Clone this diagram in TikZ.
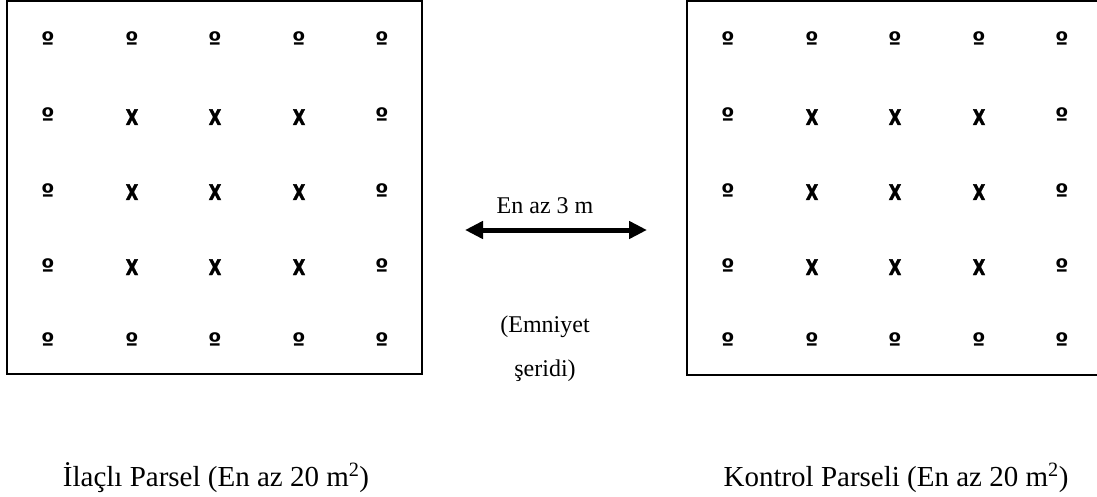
\documentclass[tikz,border=0pt]{standalone}
\usepackage{fontspec}
\setmainfont{Liberation Serif}
\newfontfamily\symfont{DejaVu Sans Bold}
\newfontfamily\crossfont{DejaVu Sans Bold}[FakeBold=2]
\usetikzlibrary{arrows.meta}
\tikzset{
  parcel/.style={line width=2.5pt, line cap=rect},
  ordmark/.style={anchor=base, inner sep=0pt, font=\symfont\fontsize{24}{24}\selectfont},
  crossmark/.style={anchor=base, inner sep=0pt, font=\crossfont\fontsize{21.5}{22}\selectfont},
  midtext/.style={anchor=base, inner sep=0pt, font=\fontsize{24}{28}\selectfont},
  captext/.style={anchor=base, inner sep=0pt, font=\fontsize{29}{34}\selectfont},
  gap/.style={line width=5pt, {Triangle[length=18pt,width=17pt]}-{Triangle[length=18pt,width=17pt]}},
}
\newcommand{\crossglyph}{\scalebox{0.76}[1]{X}}
\begin{document}
\begin{tikzpicture}[x=1pt,y=-1pt]
\useasboundingbox (0,0) rectangle (1097,497);
% left parcel
\draw[parcel] (7,1) rectangle (422,374);
% right parcel (open on the right)
\draw[parcel] (1097,1) -- (687,1) -- (687,375) -- (1097,375);
% symbol grids
\foreach \side/\off in {L/0, R/680}{
  \foreach \c/\x in {1/48,2/132,3/215,4/299,5/382}{
    \foreach \r/\y in {1/48,2/124,3/199,4/274,5/348}{
      \pgfmathtruncatemacro{\inner}{(\c>1)&&(\c<5)&&(\r>1)&&(\r<5)}
      \ifnum\inner=1
        \node[crossmark] (\side-\r-\c) at (\x+\off,\y+1) {\crossglyph};
      \else
        \node[ordmark] (\side-\r-\c) at (\x+\off,\y+2) {º};
      \fi
    }
  }
}
% safety strip
\node[midtext] (dist) at (545,213) {En az 3 m};
\coordinate (gapL) at (465,230);
\coordinate (gapR) at (647,230);
\draw[gap] (gapL) -- (gapR);
\node[midtext] (strip1) at (545,332) {(Emniyet};
\node[midtext] (strip2) at (545,376) {şeridi)};
% captions
\node[captext] (capL) at (216,486) {İlaçlı Parsel (En az 20 m\textsuperscript{2})};
\node[captext] (capR) at (896,486) {Kontrol Parseli (En az 20 m\textsuperscript{2})};
\end{tikzpicture}
\end{document}
